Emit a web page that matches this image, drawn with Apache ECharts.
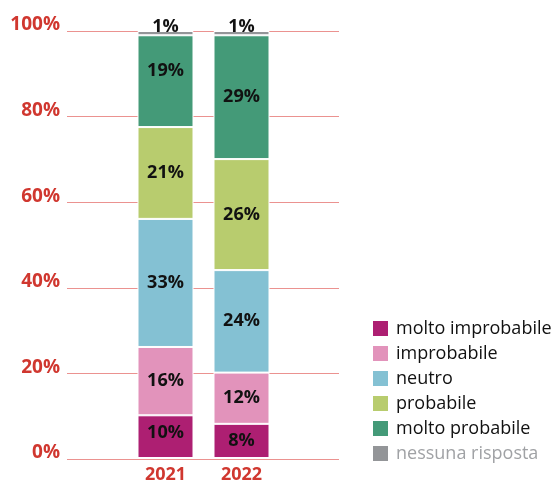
<!DOCTYPE html>
<html><head><meta charset="utf-8">
<script src="https://cdn.jsdelivr.net/npm/echarts@6/dist/echarts.min.js"></script>
<style>html,body{margin:0;padding:0;background:#fff}#c{width:553px;height:484px}</style>
</head><body><div id="c"></div>
<script>
const years = ['2021', '2022'];
const seriesNames = ['molto improbabile', 'improbabile', 'neutro', 'probabile', 'molto probabile', 'nessuna risposta'];
// bar heights as drawn in the picture (%)
const moltoImprobabile = [10, 8];
const improbabile = [16, 12];
const neutro = [30, 24];
const probabile = [21.5, 26];
const moltoProbabile = [21.5, 29];
const nessunaRisposta = [1, 1];
// printed labels
const lblMoltoImprobabile = ['10%', '8%'];
const lblImprobabile = ['16%', '12%'];
const lblNeutro = ['33%', '24%'];
const lblProbabile = ['21%', '26%'];
const lblMoltoProbabile = ['19%', '29%'];
const lblNessuna = ['1%', '1%'];
const yTicks = [0, 20, 40, 60, 80, 100];

const values = [moltoImprobabile, improbabile, neutro, probabile, moltoProbabile, nessunaRisposta];
const labels = [lblMoltoImprobabile, lblImprobabile, lblNeutro, lblProbabile, lblMoltoProbabile, lblNessuna];
const colors = ['#ad1f72', '#e293bb', '#84c1d3', '#b8cc6e', '#449a78', '#939598'];
const FONT = 'Open Sans';
const RED = '#d0372f';

const chart = echarts.init(document.getElementById('c'));
const series = seriesNames.map((n, i) => ({
  name: n, type: 'bar', stack: 'all', xAxisIndex: 1, yAxisIndex: 1,
  barWidth: 56,
  data: values[i].map((v, j) => (i === 4 && j === 0) ? { value: v, label: { offset: [0, -10] } }
                                : (i === 0 && j === 0) ? { value: v, label: { offset: [0, -4] } } : v),
  itemStyle: { color: colors[i], borderColor: '#fff', borderWidth: 1 },
  label: {
    show: true,
    position: i === 5 ? 'top' : 'inside',
    distance: i === 5 ? -5 : 5,
    formatter: p => labels[i][p.dataIndex],
    fontFamily: FONT, fontWeight: 'bold', fontSize: 18, color: '#111'
  }
}));
chart.setOption({
  animation: false,
  grid: [
    { left: 67, right: 214, top: 31, bottom: 25 },
    { left: 127.5, width: 152, top: 31, bottom: 25 }
  ],
  xAxis: [
    { type: 'category', gridIndex: 0, data: [''], show: false },
    { type: 'category', gridIndex: 1, data: years,
      axisLine: { show: false }, axisTick: { show: false },
      axisLabel: { color: RED, fontFamily: FONT, fontWeight: 'bold', fontSize: 18, margin: 8 } }
  ],
  yAxis: [
    { type: 'value', gridIndex: 0, min: 0, max: 100, interval: 20,
      axisLine: { show: false }, axisTick: { show: false },
      splitLine: { lineStyle: { color: '#eb9290', width: 1 } },
      axisLabel: { color: RED, fontFamily: FONT, fontWeight: 'bold', fontSize: 19, margin: 7,
        verticalAlign: 'bottom', lineHeight: 12,
        formatter: v => yTicks.includes(v) ? v + '%' : '' } },
    { type: 'value', gridIndex: 1, min: 0, max: 100, interval: 20, show: false }
  ],
  legend: {
    orient: 'vertical', left: 371, top: 319, padding: 0,
    itemWidth: 17, itemHeight: 17, itemGap: 6,
    icon: 'rect',
    textStyle: { fontFamily: FONT, fontSize: 18, lineHeight: 17, color: '#111', padding: [0, 0, 0, 2] },
    data: seriesNames.map((n, i) => i === 5 ? { name: n, textStyle: { color: '#a0a2a5' } } : { name: n })
  },
  series
});
</script></body></html>
